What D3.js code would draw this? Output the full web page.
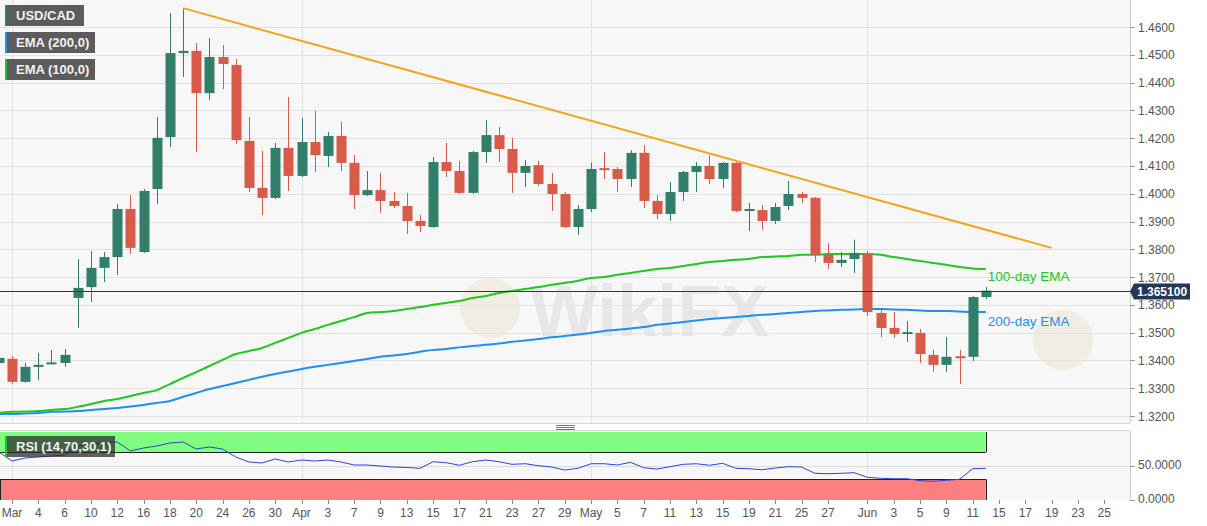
<!DOCTYPE html>
<html><head><meta charset="utf-8">
<script src="https://cdn.jsdelivr.net/npm/d3@7"></script>
<style>
html,body{margin:0;padding:0;background:#fff;}
svg{display:block;font-family:"Liberation Sans",Arial,sans-serif;}
</style></head>
<body><svg id="c" width="1207" height="526"></svg>
<script>
// ---- data ----
const days = ["02-28",
"03-02","03-03","03-04","03-05","03-06","03-09","03-10","03-11","03-12","03-13","03-16","03-17","03-18","03-19","03-20","03-23","03-24","03-25","03-26","03-27","03-30","03-31",
"04-01","04-02","04-03","04-06","04-07","04-08","04-09","04-10","04-13","04-14","04-15","04-16","04-17","04-20","04-21","04-22","04-23","04-24","04-27","04-28","04-29","04-30",
"05-01","05-04","05-05","05-06","05-07","05-08","05-11","05-12","05-13","05-14","05-15","05-18","05-19","05-20","05-21","05-22","05-25","05-26","05-27","05-28","05-29",
"06-01","06-02","06-03","06-04","06-05","06-08","06-09","06-10","06-11","06-12","06-15","06-16","06-17","06-18","06-19","06-22","06-23","06-24","06-25","06-26"];

const open  = [1.3391,1.3406,1.3323,1.3377,1.3389,1.3391,1.3625,1.3664,1.3733,1.3772,1.3945,1.3790,1.4017,1.4204,1.4506,1.4514,1.4362,1.4492,1.4463,1.4190,1.4021,1.3985,1.4165,1.4064,1.4186,1.4136,1.4208,1.4111,1.3995,1.4013,1.3974,1.3956,1.3902,1.3880,1.4114,1.4082,1.4003,1.4150,1.4211,1.4161,1.4075,1.4103,1.4035,1.3999,1.3880,1.3945,1.4092,1.4089,1.4053,1.4147,1.3974,1.3927,1.4006,1.4078,1.4100,1.4053,1.4111,1.3938,1.3941,1.3902,1.3956,1.3999,1.3985,1.3780,1.3751,1.3765,1.3783,1.3571,1.3517,1.3499,1.3499,1.3420,1.3384,1.3415,1.3413,1.3628];
const high  = [1.3463,1.3416,1.3391,1.3427,1.3438,1.3441,1.3765,1.3794,1.3790,1.3963,1.3995,1.4017,1.4276,1.4650,1.4668,1.4542,1.4560,1.4535,1.4485,1.4276,1.4154,1.4183,1.4348,1.4273,1.4298,1.4222,1.4258,1.4139,1.4082,1.4075,1.4006,1.4003,1.3924,1.4132,1.4183,1.4118,1.4154,1.4265,1.4240,1.4201,1.4121,1.4118,1.4075,1.4006,1.3959,1.4111,1.4150,1.4096,1.4157,1.4175,1.3995,1.4042,1.4082,1.4114,1.4139,1.4114,1.4114,1.3967,1.3959,1.3967,1.4046,1.4006,1.3988,1.3823,1.3790,1.3834,1.3794,1.3585,1.3574,1.3542,1.3513,1.3438,1.3484,1.3438,1.3632,1.3664];
const low   = [1.3370,1.3316,1.3319,1.3330,1.3387,1.3377,1.3517,1.3610,1.3682,1.3708,1.3783,1.3787,1.3963,1.4168,1.4420,1.4150,1.4337,1.4377,1.4179,1.4006,1.3923,1.3981,1.4010,1.4060,1.4078,1.4096,1.4082,1.3945,1.3992,1.3931,1.3949,1.3855,1.3862,1.3877,1.4060,1.3999,1.3999,1.4111,1.4114,1.4003,1.4024,1.4028,1.3938,1.3877,1.3852,1.3934,1.4053,1.4006,1.4024,1.3949,1.3909,1.3902,1.3974,1.4006,1.4035,1.4021,1.3934,1.3866,1.3870,1.3891,1.3941,1.3967,1.3754,1.3729,1.3736,1.3715,1.3560,1.3484,1.3481,1.3466,1.3391,1.3359,1.3359,1.3315,1.3398,1.3621];
const close = [1.3409,1.3323,1.3377,1.3384,1.3393,1.3420,1.3661,1.3733,1.3772,1.3945,1.3805,1.4010,1.4201,1.4506,1.4514,1.4362,1.4492,1.4467,1.4193,1.4021,1.3985,1.4165,1.4064,1.4186,1.4139,1.4208,1.4111,1.3995,1.4013,1.3974,1.3956,1.3902,1.3884,1.4114,1.4082,1.4003,1.4150,1.4211,1.4161,1.4075,1.4100,1.4035,1.3999,1.3880,1.3945,1.4089,1.4089,1.4053,1.4147,1.3974,1.3927,1.4006,1.4078,1.4100,1.4053,1.4111,1.3938,1.3945,1.3902,1.3952,1.3999,1.3985,1.3780,1.3751,1.3762,1.3787,1.3574,1.3517,1.3495,1.3502,1.3423,1.3384,1.3413,1.3410,1.3628,1.3651];

const ema100 = [1.3211,1.3215,1.3216,1.3218,1.3222,1.3225,1.3233,1.3243,1.3254,1.3261,1.3272,1.3283,1.3293,1.3315,1.3337,1.3358,1.3380,1.3402,1.3423,1.3434,1.3445,1.3463,1.3481,1.3499,1.3513,1.3528,1.3542,1.3556,1.3571,1.3574,1.3578,1.3585,1.3592,1.3600,1.3607,1.3614,1.3625,1.3632,1.3643,1.3650,1.3657,1.3664,1.3672,1.3679,1.3686,1.3697,1.3700,1.3708,1.3715,1.3722,1.3729,1.3733,1.3740,1.3747,1.3754,1.3758,1.3762,1.3765,1.3772,1.3774,1.3776,1.3780,1.3780,1.3783,1.3783,1.3783,1.3783,1.3780,1.3772,1.3765,1.3758,1.3751,1.3744,1.3736,1.3731,1.3729];
const ema200 = [1.3207,1.3207,1.3209,1.3211,1.3215,1.3216,1.3218,1.3222,1.3225,1.3229,1.3234,1.3240,1.3247,1.3254,1.3269,1.3283,1.3297,1.3308,1.3319,1.3330,1.3341,1.3351,1.3360,1.3369,1.3377,1.3384,1.3391,1.3398,1.3405,1.3413,1.3418,1.3423,1.3431,1.3438,1.3441,1.3447,1.3452,1.3456,1.3461,1.3467,1.3472,1.3477,1.3483,1.3488,1.3493,1.3499,1.3506,1.3510,1.3515,1.3520,1.3528,1.3533,1.3538,1.3544,1.3549,1.3553,1.3556,1.3560,1.3564,1.3567,1.3571,1.3574,1.3578,1.3580,1.3582,1.3583,1.3585,1.3585,1.3583,1.3582,1.3580,1.3578,1.3578,1.3576,1.3574,1.3574];
const rsi = [70.4,57.0,61.5,63.0,64.4,65.9,79.3,82.2,83.7,85.2,71.9,76.3,79.3,83.7,85.2,74.8,77.8,74.8,63.0,55.6,54.1,60.0,55.6,58.5,57.0,58.5,55.6,51.1,51.1,49.6,48.1,47.4,46.2,56.0,54.5,50.7,56.0,58.5,56.0,52.1,53.0,50.1,48.1,43.7,46.2,53.0,53.0,51.1,55.1,47.1,45.2,48.6,52.1,53.0,50.7,53.6,46.2,45.6,44.1,46.7,48.6,48.1,38.8,38.2,38.8,39.7,32.9,31.4,30.8,30.8,27.9,27.0,28.4,29.9,45.6,46.2];

const trendDays = ["03-19","06-19"];
const trendValues = [1.4668, 1.3805];
const lastPrice = 1.3651;

const tickDays   = ["03-02","03-04","03-06","03-10","03-12","03-16","03-18","03-20","03-24","03-26","03-30","04-01","04-03","04-07","04-09","04-13","04-15","04-17","04-21","04-23","04-27","04-29","05-01","05-05","05-07","05-11","05-13","05-15","05-19","05-21","05-25","05-27","06-01","06-03","06-05","06-09","06-11","06-15","06-17","06-19","06-23","06-25"];
const tickLabels = ["Mar","4","6","10","12","16","18","20","24","26","30","Apr","3","7","9","13","15","17","21","23","27","29","May","5","7","11","13","15","19","21","25","27","Jun","3","5","9","11","15","17","19","23","25"];
const priceTicks = [1.32,1.33,1.34,1.35,1.36,1.37,1.38,1.39,1.40,1.41,1.42,1.43,1.44,1.45,1.46];
const rsiTicks = [0, 50];

// ---- layout ----
const plotR = 1130;
const priceTop = 0, priceBot = 423;
const rsiTop = 431, rsiBot = 500;
const upCol = "#317f6b", dnCol = "#d85a48";

const svg = d3.select("#c");
const x = d3.scalePoint().domain(days).range([-1.16, 1117.44]);
const y = d3.scaleLinear().domain([1.32, 1.46]).range([416, 27]);
const yr = d3.scaleLinear().domain([0, 100]).range([499.5, 432]);

// backgrounds
svg.append("rect").attr("x",0).attr("y",priceTop).attr("width",plotR).attr("height",priceBot-priceTop).attr("fill","#f7f7f7");
svg.append("rect").attr("x",0).attr("y",rsiTop).attr("width",plotR).attr("height",rsiBot-rsiTop).attr("fill","#f7f7f7");

// clip paths
const defs = svg.append("defs");
defs.append("clipPath").attr("id","cp").append("rect").attr("x",0).attr("y",priceTop).attr("width",plotR).attr("height",priceBot-priceTop);
defs.append("clipPath").attr("id","cr").append("rect").attr("x",0).attr("y",rsiTop).attr("width",plotR).attr("height",rsiBot-rsiTop);

// watermark
const wm = svg.append("g").attr("font-weight","bold").attr("fill","#d8d2d2").attr("opacity",0.45).attr("font-size",72);
wm.append("text").attr("x",530).attr("y",336).text("WikiFX");
wm.append("circle").attr("cx",490).attr("cy",308).attr("r",30).attr("fill","#eadfc8");
svg.append("circle").attr("cx",1063).attr("cy",340).attr("r",30).attr("fill","#eadfc8").attr("opacity",0.45);

// horizontal grid (price)
svg.append("g").selectAll("line").data(priceTicks).join("line")
  .attr("x1",0).attr("x2",plotR).attr("y1",d=>Math.round(y(d))+0.5).attr("y2",d=>Math.round(y(d))+0.5)
  .attr("stroke","#e2e2e2").attr("stroke-width",1);

// vertical month grid
const monthDays = tickDays.filter((d,i)=>isNaN(+tickLabels[i]));
svg.append("g").selectAll("line").data(monthDays).join("line")
  .attr("x1",d=>Math.round(x(d))+0.5).attr("x2",d=>Math.round(x(d))+0.5)
  .attr("y1",priceTop).attr("y2",priceBot).attr("stroke","#e2e2e2");
svg.append("g").selectAll("line").data(monthDays).join("line")
  .attr("x1",d=>Math.round(x(d))+0.5).attr("x2",d=>Math.round(x(d))+0.5)
  .attr("y1",rsiTop).attr("y2",rsiBot).attr("stroke","#e2e2e2");

// panel borders / divider
svg.append("line").attr("x1",0).attr("x2",plotR).attr("y1",priceBot+0.5).attr("y2",priceBot+0.5).attr("stroke","#d8d8d8");
svg.append("line").attr("x1",0).attr("x2",plotR).attr("y1",rsiTop-0.5).attr("y2",rsiTop-0.5).attr("stroke","#d8d8d8");
[425.5,427.5,429.5].forEach(v=>svg.append("line").attr("x1",556).attr("x2",575).attr("y1",v).attr("y2",v).attr("stroke","#777"));
svg.append("line").attr("x1",plotR+0.5).attr("x2",plotR+0.5).attr("y1",0).attr("y2",priceBot).attr("stroke","#cfcfcf");
svg.append("line").attr("x1",plotR+0.5).attr("x2",plotR+0.5).attr("y1",rsiTop).attr("y2",rsiBot).attr("stroke","#cfcfcf");

// price plot
const pg = svg.append("g").attr("clip-path","url(#cp)");
const data = open.map((o,i)=>({d:days[i],o,h:high[i],l:low[i],c:close[i]}));

// EMA lines
const ld = (arr)=>arr.map((v,i)=>[x(days[i]), y(v)]);
pg.append("path").attr("d",d3.line().curve(d3.curveMonotoneX)(ld(ema200))).attr("fill","none").attr("stroke","#1e90f0").attr("stroke-width",2);
pg.append("path").attr("d",d3.line().curve(d3.curveMonotoneX)(ld(ema100))).attr("fill","none").attr("stroke","#1ec81e").attr("stroke-width",2);

// candles
const cg = pg.append("g").selectAll("g").data(data).join("g");
cg.append("line").attr("x1",d=>Math.round(x(d.d))+0.5).attr("x2",d=>Math.round(x(d.d))+0.5)
  .attr("y1",d=>y(d.h)).attr("y2",d=>y(d.l)).attr("stroke",d=>d.c>=d.o?upCol:dnCol).attr("stroke-width",1);
cg.append("rect").attr("x",d=>Math.round(x(d.d))-4.5).attr("width",10)
  .attr("y",d=>Math.min(y(d.o),y(d.c))).attr("height",d=>Math.max(2,Math.abs(y(d.o)-y(d.c))))
  .attr("fill",d=>d.c>=d.o?upCol:dnCol);

// trend line
pg.append("line").attr("x1",x(trendDays[0])).attr("y1",y(trendValues[0])).attr("x2",x(trendDays[1])).attr("y2",y(trendValues[1]))
  .attr("stroke","#f7a21b").attr("stroke-width",2);

// last price line
svg.append("line").attr("x1",0).attr("x2",plotR).attr("y1",Math.round(y(lastPrice))+0.5).attr("y2",Math.round(y(lastPrice))+0.5)
  .attr("stroke","#22375a").attr("stroke-width",1);

// EMA labels
const lastDay = days[open.length-1];
svg.append("text").attr("x",x(lastDay)+2).attr("y",y(ema100[ema100.length-1])+12).attr("fill","#1ec81e").attr("font-size",13.5).text("100-day EMA");
svg.append("text").attr("x",x(lastDay)+2).attr("y",y(ema200[ema200.length-1])+14).attr("fill","#1e90f0").attr("font-size",13.5).text("200-day EMA");

// price axis
const pa = svg.append("g");
pa.selectAll("line").data(priceTicks).join("line").attr("x1",plotR).attr("x2",plotR+5)
  .attr("y1",d=>Math.round(y(d))+0.5).attr("y2",d=>Math.round(y(d))+0.5).attr("stroke","#999");
pa.selectAll("text").data(priceTicks).join("text").attr("x",plotR+8).attr("y",d=>y(d)+4.5)
  .attr("font-size",12).attr("fill","#555").text(d=>d3.format(".4f")(d));

// last price marker
const ly = Math.round(y(lastPrice))+0.5;
svg.append("path").attr("d",`M${plotR},${ly} L${plotR+4},${ly-8} L${plotR+60},${ly-8} L${plotR+60},${ly+8} L${plotR+4},${ly+8} Z`).attr("fill","#22375a");
svg.append("text").attr("x",plotR+7).attr("y",ly+4.5).attr("font-size",12).attr("font-weight","bold").attr("fill","#fff").text(d3.format(".6f")(lastPrice));

// RSI panel
const rg = svg.append("g").attr("clip-path","url(#cr)");
const bandR = x(lastDay);
rg.append("rect").attr("x",0).attr("y",yr(100)).attr("width",bandR).attr("height",yr(70)-yr(100)).attr("fill","#80fc80");
rg.append("rect").attr("x",0).attr("y",yr(30)).attr("width",bandR).attr("height",yr(0)-yr(30)+2).attr("fill","#fc8080");
rg.append("line").attr("x1",0).attr("x2",bandR).attr("y1",Math.round(yr(70))+0.5).attr("y2",Math.round(yr(70))+0.5).attr("stroke","#222");
rg.append("line").attr("x1",0).attr("x2",bandR).attr("y1",Math.round(yr(30))+0.5).attr("y2",Math.round(yr(30))+0.5).attr("stroke","#222");
rg.append("line").attr("x1",Math.round(bandR)+0.5).attr("x2",Math.round(bandR)+0.5).attr("y1",yr(100)).attr("y2",yr(70)).attr("stroke","#222");
rg.append("line").attr("x1",Math.round(bandR)+0.5).attr("x2",Math.round(bandR)+0.5).attr("y1",yr(30)).attr("y2",rsiBot).attr("stroke","#222");
rg.append("line").attr("x1",0.5).attr("x2",0.5).attr("y1",yr(30)).attr("y2",rsiBot).attr("stroke","#222");
rg.append("line").attr("x1",0).attr("x2",plotR).attr("y1",Math.round(yr(50))+0.5).attr("y2",Math.round(yr(50))+0.5).attr("stroke","#dddddd");
rg.append("path").attr("d",d3.line()(rsi.map((v,i)=>[x(days[i]),yr(v)]))).attr("fill","none").attr("stroke","#2f45d0").attr("stroke-width",1);

// RSI axis
const ra = svg.append("g");
ra.selectAll("line").data(rsiTicks).join("line").attr("x1",plotR).attr("x2",plotR+5)
  .attr("y1",d=>Math.round(yr(d))+0.5).attr("y2",d=>Math.round(yr(d))+0.5).attr("stroke","#999");
ra.selectAll("text").data(rsiTicks).join("text").attr("x",plotR+8).attr("y",d=>yr(d)+3)
  .attr("font-size",12).attr("fill","#555").text(d=>d3.format(".4f")(d));

// x axis
const xa = svg.append("g");
xa.selectAll("line").data(tickDays).join("line").attr("x1",d=>Math.round(x(d))+0.5).attr("x2",d=>Math.round(x(d))+0.5)
  .attr("y1",rsiBot).attr("y2",rsiBot+4).attr("stroke","#888");
xa.selectAll("text").data(tickDays).join("text").attr("x",d=>x(d)).attr("y",rsiBot+17).attr("text-anchor","middle")
  .attr("font-size",12).attr("fill","#555").text((d,i)=>tickLabels[i]);

// legends
function legend(yy, w, txt, col){
  const g = svg.append("g");
  g.append("rect").attr("x",5).attr("y",yy).attr("width",w).attr("height",21).attr("fill","#5c5c5c");
  g.append("rect").attr("x",5).attr("y",yy).attr("width",2).attr("height",21).attr("fill",col);
  g.append("text").attr("x",16).attr("y",yy+15).attr("font-size",13).attr("font-weight","bold").attr("fill","#f2f2f2").text(txt);
}
legend(5, 79, "USD/CAD", upCol);
legend(32, 90, "EMA (200,0)", "#1e90f0");
legend(59, 90, "EMA (100,0)", "#1ec81e");
// RSI legend
const rl = svg.append("g");
rl.append("rect").attr("x",5).attr("y",436).attr("width",110).attr("height",21).attr("fill","#2e2e2e").attr("opacity",0.75);
rl.append("rect").attr("x",5).attr("y",436).attr("width",2).attr("height",21).attr("fill","#1ec81e");
rl.append("text").attr("x",16).attr("y",451).attr("font-size",13).attr("font-weight","bold").attr("fill","#f2f2f2").text("RSI (14,70,30,1)");
</script></body></html>
